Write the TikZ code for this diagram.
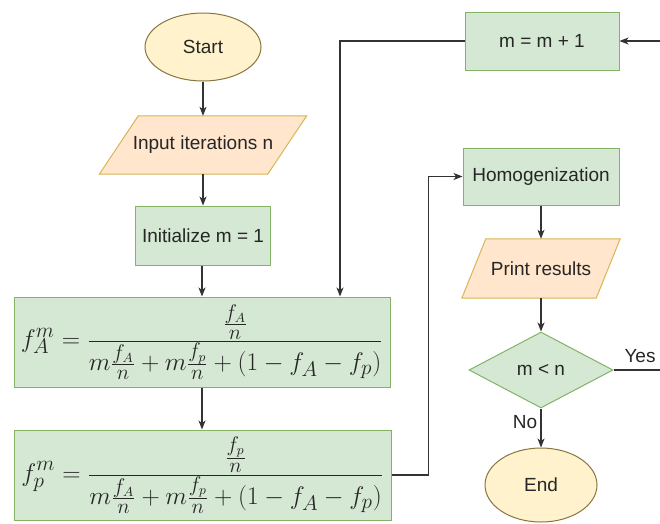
\documentclass[tikz,border=0pt]{standalone}
\usepackage{fontspec}
\usepackage{graphicx}
\setmainfont{Liberation Sans}
\usetikzlibrary{shapes.geometric,arrows.meta}
\definecolor{gfill}{HTML}{D5E8D4}
\definecolor{gdraw}{HTML}{82B366}
\definecolor{yfill}{HTML}{FFF2CC}
\definecolor{ydraw}{HTML}{A89550}
\definecolor{ofill}{HTML}{FFE6CC}
\definecolor{odraw}{HTML}{D6B656}
\definecolor{lne}{HTML}{333333}
\tikzset{
  txt/.style={font=\fontsize{19}{22}\selectfont, text=black!85},
  gbox/.style={draw=gdraw, fill=gfill, line width=1pt, rectangle, txt},
  term/.style={draw=ydraw!80!black, fill=yfill, line width=1pt, ellipse, txt},
  iobox/.style={rectangle, txt},
  decis/.style={draw=gdraw, fill=gfill, line width=1pt, diamond, aspect=1.9, inner sep=0pt, txt},
  conn/.style={draw=lne, line width=1.1pt, -{Stealth[length=9pt,width=7pt,inset=2.5pt]}},
  plain/.style={draw=lne, line width=1.1pt},
  lbl/.style={txt}
}
\begin{document}
\begin{tikzpicture}[x=1pt,y=-1pt]
\useasboundingbox (0,0) rectangle (660,523);
% terminals
\node[term, minimum width=116pt, minimum height=68pt] (start) at (203,47) {Start};
% input parallelogram
\node[iobox, minimum width=207pt, minimum height=58pt] (input) at (203,145) {};
\fill[ofill] (input.south west) -- ([xshift=-39pt]input.south east) -- (input.north east) -- ([xshift=39pt]input.north west) -- cycle;
\draw[odraw, line width=1pt] (input.south west) -- ([xshift=-39pt]input.south east) -- (input.north east) -- ([xshift=39pt]input.north west) -- cycle;
\node[txt] (inputtxt) at (input.center) {Input iterations n};
% init
\node[gbox, minimum width=135pt, minimum height=59pt] (init) at (203,235.5) {Initialize m = 1};
% formulas
\node[gbox, minimum width=376pt, minimum height=90pt, inner sep=0pt] (fa) at (202,342)
  {\resizebox{362pt}{!}{$\displaystyle f_A^m = \frac{\frac{f_A}{n}}{m\frac{f_A}{n}+m\frac{f_p}{n}+(1-f_A-f_p)}$}};
\node[gbox, minimum width=377pt, minimum height=90pt, inner sep=0pt] (fp) at (202.5,475)
  {\resizebox{362pt}{!}{$\displaystyle f_p^m = \frac{\frac{f_p}{n}}{m\frac{f_A}{n}+m\frac{f_p}{n}+(1-f_A-f_p)}$}};
% right column
\node[gbox, minimum width=154pt, minimum height=58pt] (mm) at (542,41) {m = m + 1};
\node[gbox, minimum width=156pt, minimum height=57pt] (hom) at (541,176.5) {Homogenization};
\node[iobox, minimum width=158pt, minimum height=59pt] (print) at (541,268.5) {};
\fill[ofill] (print.south west) -- ([xshift=-24pt]print.south east) -- (print.north east) -- ([xshift=24pt]print.north west) -- cycle;
\draw[odraw, line width=1pt] (print.south west) -- ([xshift=-24pt]print.south east) -- (print.north east) -- ([xshift=24pt]print.north west) -- cycle;
\node[txt] (printtxt) at (print.center) {Print results};
\node[decis, minimum width=144pt, minimum height=76pt] (dec) at (541,370) {m < n};
\node[term, minimum width=112pt, minimum height=74pt] (end) at (541,485) {End};
% helper coordinates
\coordinate (loopin) at (660,41);
\coordinate (yesend) at (660,370);
\coordinate (fatop) at ([xshift=138pt]fa.north);
\coordinate (initbot) at (init.south -| fa.north);
\coordinate (fabot) at (fa.south);
% connectors
\draw[conn] (start) -- (input.north);
\draw[conn] (input.south) -- (init.north);
\draw[conn] (initbot) -- (fa.north);
\draw[conn] (fabot) -- (fp.north -| fabot);
\draw[conn] (fp.east) -- ++(37,0) |- (hom.west);
\draw[conn] (mm.west) -| (fatop);
\draw[conn] (loopin) -- (mm.east);
\draw[conn] (hom.south) -- (print.north);
\draw[conn] (print.south) -- (dec.north);
\draw[conn] (dec.south) -- (end.north);
\draw[plain] (dec.east) -- (yesend);
\node[lbl] (yes) at (640,356) {Yes};
\node[lbl] (no) at (525,422) {No};
\end{tikzpicture}
\end{document}
